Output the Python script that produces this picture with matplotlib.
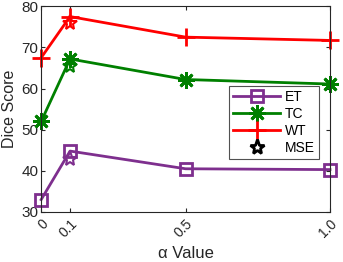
import matplotlib.pyplot as plt
import numpy as np

plt.rcParams['font.family'] = ['Liberation Sans', 'DejaVu Sans']

alpha = [0, 0.1, 0.5, 1.0]
alpha_labels = ['0', '0.1', '0.5', '1.0']
et = [33.0, 44.8, 40.5, 40.3]
tc = [52.0, 67.2, 62.2, 61.1]
wt = [67.5, 77.5, 72.5, 71.7]
mse_alpha = [0.1]
mse_et = [42.8]
mse_tc = [65.6]
mse_wt = [76.0]

purple = '#7E2F8E'
green = '#008000'
red = '#FF0000'

fig = plt.figure(figsize=(3.43, 2.62), dpi=100)
ax = fig.add_axes([0.12, 0.191, 0.842, 0.785])

ast = (8, 2, 0)
ax.plot(alpha, et, color=purple, lw=2, marker='s', ms=9, mfc='none', mew=2, label='ET', clip_on=False)
ax.plot(alpha, tc, color=green, lw=2, marker=ast, ms=12, mew=2, label='TC', clip_on=False)
ax.plot(alpha, wt, color=red, lw=2, marker='+', ms=13, mew=2, label='WT', clip_on=False)
ax.plot(mse_alpha, mse_et, ls='none', marker='*', ms=11, mfc='none', mec=purple, mew=1.5, clip_on=False)
ax.plot(mse_alpha, mse_tc, ls='none', marker='*', ms=11, mfc='none', mec=green, mew=1.5, clip_on=False)
ax.plot(mse_alpha, mse_wt, ls='none', marker='*', ms=11, mfc='none', mec=red, mew=1.5, clip_on=False)
ax.plot([], [], ls='none', marker='*', ms=11, mfc='none', mec='black', mew=2, label='MSE')

ax.set_xlim(0, 1.0)
ax.set_ylim(30, 80)
ax.set_xticks(alpha)
ax.set_xticklabels(alpha_labels, rotation=45, ha='right', va='top', rotation_mode='anchor')
ax.set_yticks([30, 40, 50, 60, 70, 80])
ax.tick_params(direction='in', top=True, right=True, labelsize=11, colors='#262626', length=3)
ax.tick_params(axis='y', pad=2)
for lab in ax.get_xticklabels():
    lab.set_fontsize(10)
for s in ax.spines.values():
    s.set_color('#262626')
    s.set_linewidth(0.8)
ax.set_xlabel('α Value', fontsize=12, color='#262626')
ax.set_ylabel('Dice Score', fontsize=11.5, color='#262626')
ax.yaxis.set_label_coords(-0.082, 0.5)

leg = ax.legend(loc='center right', bbox_to_anchor=(0.985, 0.435), fontsize=10, fancybox=False,
                edgecolor='#262626', handlelength=3.4, borderpad=0.3, labelspacing=0.2,
                handletextpad=0.3)
leg.get_frame().set_linewidth(0.8)

fig.savefig('out.png', dpi=100)
